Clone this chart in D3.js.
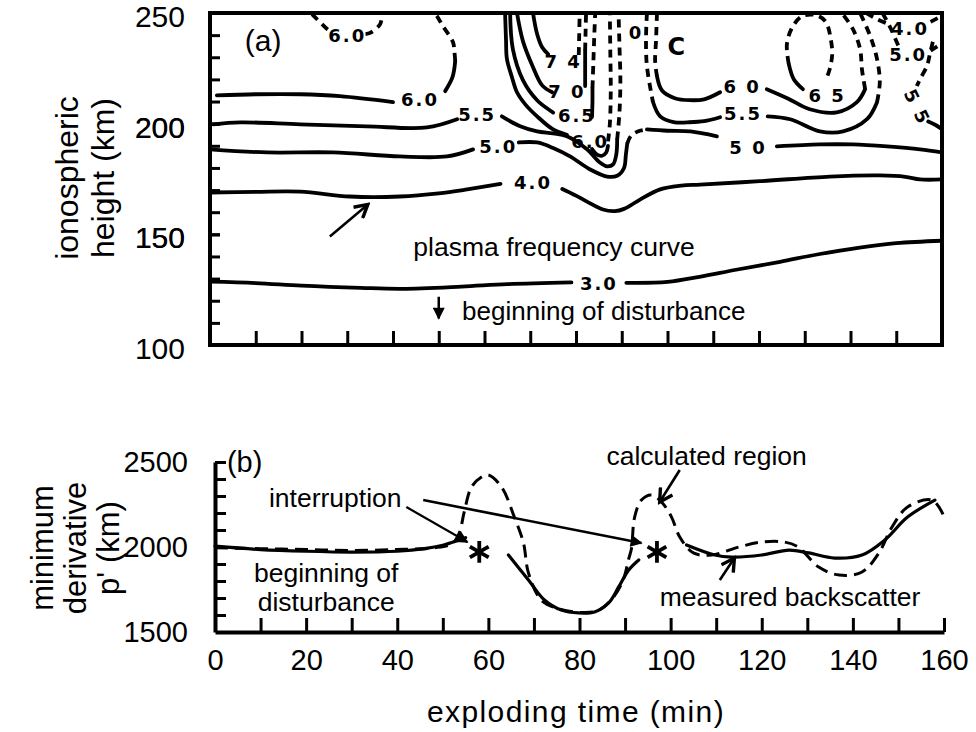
<!DOCTYPE html>
<html>
<head>
<meta charset="utf-8">
<script src="https://cdn.jsdelivr.net/npm/d3@7"></script>
<style>
  body { margin: 0; background: #fff; }
  text { font-family: "Liberation Sans", Arial, sans-serif; fill: #000; }
  .cl { font-family: "DejaVu Sans", sans-serif; font-weight: bold; font-size: 18px; letter-spacing: 2px; }
</style>
</head>
<body>
<div id="chart"></div>
<script>
// ---- panel (a): contours of plasma frequency, [time (min), height (km)] ----
var timeTicksA = d3.range(10, 160, 10);
var heightTicksA = d3.range(110, 250, 10);
var heightLabelsA = [100, 150, 200, 250];

var con30a = [[0,128.6],[10,128],[20,126.8],[33,125.8],[42,125.4],[55,126.4],[65,127.5],[79,128.3]];
var con30b = [[91,128.1],[100,128.5],[107,130.8],[115,134],[124.6,137.6],[133,141],[142,144],[150,146],[160,147.1]];

var con40a = [[0,168.9],[10,169.2],[19.7,169.3],[30.6,167.1],[41.5,167.1],[50,168.5],[56.2,170.3],[63.5,172.8]];
var con40b = [[77,170.5],[80,167.5],[82.4,164.8],[85.9,161.2],[88.5,160.5],[90.5,161.5],[94,165.7],[98.4,170.3],[103,172],[107.1,172.5],[120.2,174],[135.5,176.1],[146.4,176.6],[152,176],[155.2,174.8],[160,174.8]];
var con40c = [[143.4,250],[145.5,247.5],[148.2,245]];
var con40d = [[157.5,246],[159.8,248.5]];

var con50a = [[0,188.4],[12.5,187],[26.9,187],[41.5,185.2],[51.8,185.2],[57.5,188.4]];
var con50b = [[67.5,191.5],[71.5,191.5],[75,189],[78.7,185.2],[83.1,179.3],[86.8,176.1],[89,176.5],[90.5,180],[90.9,186],[91.2,191]];
var con50c = [[91.2,191],[92,194.5],[93.5,196.5],[95.5,197.4]];
var con50d = [[95.5,197.4],[100,196.8],[105,196.5],[110.8,194.3]];
var con50e = [[123.9,189.7],[133.3,190.6],[140.5,190.6],[148,189.7],[155.2,188.4],[160,187]];
var con50f = [[147,250],[148.8,243],[150.3,236],[151,233]];
var con50g = [[157.5,233],[159.8,236]];

var con55a = [[0.7,199.7],[6.6,200.6],[19.7,199.7],[34.3,198.8],[47.4,198.3],[54,202]];
var con55b = [[63.8,203.3],[67.8,198.8],[71.5,196.5],[75,195.6],[78,194.3],[82.4,188.4],[85.2,182.5],[86.8,180.7],[88.1,181.6],[88.8,186],[89,192.9]];
var con55c = [[89,192.9],[89.5,205],[89.7,220],[89.5,235],[89.3,250]];
var con55d = [[95.5,250],[95.3,238],[95.5,226],[96.8,210]];
var con55e = [[96.8,210],[98.4,203.3],[101.6,200.6],[104.3,200.6],[108,201.1],[111.5,202.9]];
var con55f = [[121.9,203.3],[126.8,202],[133.3,196.5],[138.4,196.5],[143.6,202],[145.8,209.7]];
var con55g = [[145.8,209.7],[146.4,218.7],[145.8,229.2],[144.3,239.6],[142.1,250]];
var con55h = [[158,237],[157.3,231],[156.7,226],[155.2,220.1],[154.5,217]];
var con55i = [[157,201],[158.5,199.5],[160,197.5]];

var con60a = [[1.5,212.8],[10,213.3],[19.7,213.3],[28.4,212.4],[40,209.7]];
var con60b = [[51.4,214.7],[53,221],[53.6,228.3]];
var con60c = [[53.6,228.3],[53.4,233],[53.1,236.9],[50.9,244.1],[49.6,248.6],[49,250]];
var con60top1 = [[22.3,249.5],[25.6,242.8],[26.5,241.5]];
var con60top2 = [[34,240.5],[35,241],[37.2,245],[37.6,249.5]];
var con60d = [[64.5,250],[64.7,238],[64.9,229.2],[66,221],[67.1,214.2],[69,208.5],[71.5,203.3],[75,197.4],[78,195]];
var con60e = [[83.5,188.5],[84.6,186],[85.7,185.5],[86.6,187],[87,190]];
var con60f = [[87,192],[87.4,200],[87.6,215],[87.5,232],[87.4,250]];
var con60g = [[97.7,250],[97.5,238],[97.3,228],[97.7,221.5]];
var con60h = [[97.7,221.5],[98.8,215],[101.6,211.5],[104.9,210.6],[108,211],[111.5,214.2]];
var con60i = [[121.7,215.6],[126.3,211.4],[131.1,206.5],[137,205.1],[141.4,209.7],[143.2,215.6]];
var con60j = [[143.2,215.6],[142.5,224.6],[142.1,233.7],[140.5,242.8],[138.1,250]];

var con65a = [[65.6,250],[66.2,233.7],[68.4,219.7],[71.5,210.6],[75,205]];
var con65b = [[83.5,203],[83.6,210],[83.6,216]];
var con65c = [[83.6,216],[83.8,228],[84,240],[84.2,250]];
var con65d = [[129.6,215.6],[127.6,220.1],[126.5,227]];
var con65e = [[126.5,227],[126.1,236],[127.4,244],[129.5,248.6],[132.5,249],[134.6,246],[135.7,238],[136,231.4],[135.5,225],[134.6,219.5]];

var con70a = [[67.1,250],[68.4,237.3],[70.4,226.5],[72.6,217.3],[74.8,214.2]];
var con70b = [[82,217],[82,225],[82,233]];
var con70c = [[82,233],[82.1,242],[82.2,250]];

var con74a = [[70.6,250],[71.5,240.5],[72.6,234.5],[73.9,231.4]];
var con74b = [[80.6,231],[80.7,240],[80.8,250]];

var contourLabels = [
  {t: 85, h: 128, text: "3.0"},
  {t: 70.6, h: 173.5, text: "4.0"},
  {t: 63, h: 189.7, text: "5.0"},
  {t: 117.6, h: 189.4, text: "5 0"},
  {t: 58.4, h: 204.2, text: "5.5"},
  {t: 116.5, h: 204.5, text: "5.5"},
  {t: 45.9, h: 211, text: "6.0"},
  {t: 30, h: 240, text: "6.0"},
  {t: 83.1, h: 192, text: "6.0"},
  {t: 116.3, h: 216.9, text: "6 0"},
  {t: 80.2, h: 203.8, text: "6.5"},
  {t: 134.9, h: 212.8, text: "6 5"},
  {t: 78, h: 214.6, text: "7 0"},
  {t: 77.2, h: 228.3, text: "7 4"},
  {t: 93.1, h: 241.4, text: "0"},
  {t: 153, h: 242.8, text: "4.0"},
  {t: 152.6, h: 231.4, text: "5.0"}
];

// ---- panel (b): minimum derivative p' (km) ----
var timeLabelsB = d3.range(0, 161, 20);
var timeTicksB = d3.range(10, 161, 10);
var pTicksB = d3.range(1600, 2501, 100);
var pLabelsB = [1500, 2000, 2500];

var measured1 = [[0,2005],[10,1985],[20,1975],[30,1970],[40,1975],[46,1990],[50,2010],[53,2035],[55,2055]];
var measured2 = [[64.4,1953],[68.8,1806],[72.3,1688],[76,1629],[79.8,1612],[83.3,1618],[86.4,1671],[88.6,1765],[90.8,1865],[93,1924]];
var measured3 = [[103.5,2012],[109.7,1953],[113.4,1941],[120,1953],[126,1982],[130.3,1965],[136,1935],[142,1953],[147,2041],[152,2176],[158,2276]];
var calculated = [[0,1995],[10,1990],[20,1985],[30,1980],[40,1985],[48,1995],[52,2020],[53.6,2082],[54.7,2206],[56.3,2353],[58.5,2412],[60,2424],[62.9,2353],[65.7,2176],[67.7,2024],[68.8,1847],[71.6,1688],[75,1640],[80,1615],[84,1625],[87,1690],[89.5,1800],[90.8,1930],[91.4,1990],[92.1,2176],[93.6,2276],[95.8,2306],[98,2265],[100.2,2176],[102,2059],[105,1965],[109,1953],[115,2000],[120,2029],[125,2029],[128,2000],[132.5,1882],[137,1835],[142,1853],[145.7,1965],[148.6,2118],[152,2235],[157.4,2276],[160,2180]];
var stars = [[58,1971],[97,1971]];

var svg = d3.select("#chart").append("svg")
  .attr("width", 976).attr("height", 732)
  .style("background", "white");

var defs = svg.append("defs");
defs.append("marker").attr("id", "tri")
  .attr("viewBox", "0 0 10 10").attr("refX", 9).attr("refY", 5)
  .attr("markerWidth", 15).attr("markerHeight", 12)
  .attr("markerUnits", "userSpaceOnUse").attr("orient", "auto")
  .append("path").attr("d", "M0,0 L10,5 L0,10 z").attr("fill", "#000");
defs.append("marker").attr("id", "vee")
  .attr("viewBox", "0 0 12 12").attr("refX", 10).attr("refY", 6)
  .attr("markerWidth", 17).attr("markerHeight", 17)
  .attr("markerUnits", "userSpaceOnUse").attr("orient", "auto")
  .append("path").attr("d", "M1,1 L10,6 L1,11").attr("fill", "none")
  .attr("stroke", "#000").attr("stroke-width", 2.4);

// ================= panel (a) =================
var xA = d3.scaleLinear().domain([0, 160]).range([210, 942]);
var yA = d3.scaleLinear().domain([100, 250]).range([345, 13]);

defs.append("clipPath").attr("id", "clipA").append("rect")
  .attr("x", xA(0)).attr("y", yA(250)).attr("width", xA(160) - xA(0)).attr("height", yA(100) - yA(250));

var gA = svg.append("g");
var plotA = gA.append("g").attr("clip-path", "url(#clipA)");

var lineA = d3.line()
  .x(function (d) { return xA(d[0]) })
  .y(function (d) { return yA(d[1]) })
  .curve(d3.curveCatmullRom.alpha(0.5));

function contour(pts, dashed) {
  plotA.append("path")
    .datum(pts)
    .attr("d", lineA)
    .attr("fill", "none")
    .attr("stroke", "#000")
    .attr("stroke-width", 3.8)
    .attr("stroke-linecap", dashed ? "butt" : "round")
    .attr("stroke-dasharray", dashed ? "8,6" : null);
}

// solid pieces
[con30a, con30b, con40a, con40b, con50a, con50b, con50d, con50e,
 con55a, con55b, con55e, con55f, con55i, con60a, con60b, con60d, con60e,
 con60h, con60i, con65a, con65b, con65d, con70a, con70b, con74a]
  .forEach(function (c) { contour(c, false) });
// dashed pieces
[con40c, con40d, con50c, con50f, con50g, con55c, con55d, con55g, con55h,
 con60c, con60top1, con60top2, con60f, con60g, con60j, con65c, con65e, con70c, con74b]
  .forEach(function (c) { contour(c, true) });

plotA.selectAll("text.cl")
  .data(contourLabels)
  .enter().append("text")
  .attr("class", "cl")
  .attr("x", d => xA(d.t))
  .attr("y", d => yA(d.h))
  .attr("dy", "0.36em")
  .attr("text-anchor", "middle")
  .text(d => d.text);

// slanted "5 5" label at the right edge and the bold C mark
plotA.append("text").attr("class", "cl")
  .attr("transform", "translate(" + xA(154.6) + "," + yA(207.6) + ") rotate(64)")
  .attr("text-anchor", "middle").attr("dy", "0.36em")
  .text("5 5");
plotA.append("text")
  .attr("x", xA(101.9)).attr("y", yA(235)).attr("dy", "0.36em")
  .attr("text-anchor", "middle")
  .style("font-family", "DejaVu Sans").style("font-weight", "bold").style("font-size", "24px")
  .text("C");

// frame
gA.append("rect")
  .attr("x", xA(0)).attr("y", yA(250))
  .attr("width", xA(160) - xA(0)).attr("height", yA(100) - yA(250))
  .attr("fill", "none").attr("stroke", "#000").attr("stroke-width", 4);

// ticks
var axisA_left = gA.append("g")
  .attr("transform", "translate(" + xA(0) + ",0)")
  .call(d3.axisLeft(yA).tickValues(heightTicksA.concat(heightLabelsA))
    .tickSizeInner(-10).tickSizeOuter(0).tickPadding(25)
    .tickFormat(function (d) { return heightLabelsA.indexOf(d) >= 0 ? d : "" }));
axisA_left.select(".domain").remove();
axisA_left.selectAll("line").attr("stroke-width", 3).filter(d => d == 100 || d == 250).remove();
axisA_left.selectAll("text").style("font-size", "30px").attr("dy", "0.45em");

var axisA_bottom = gA.append("g")
  .attr("transform", "translate(0," + yA(100) + ")")
  .call(d3.axisBottom(xA).tickValues(timeTicksA).tickSizeInner(-14).tickSizeOuter(0).tickFormat(""));
axisA_bottom.select(".domain").remove();
axisA_bottom.selectAll("line").attr("stroke-width", 3);

// axis title (a)
var titleA = gA.append("text")
  .attr("transform", "translate(67,178) rotate(-90)")
  .attr("text-anchor", "middle")
  .style("font-size", "32px");
titleA.append("tspan").attr("x", 0).attr("dy", "0.35em").text("ionospheric");
titleA.append("tspan").attr("x", 0).attr("dy", "1.12em").text("height (km)");

// annotations (a)
gA.append("text").attr("x", xA(11.6)).attr("y", yA(237.5)).attr("dy", "0.36em")
  .attr("text-anchor", "middle").style("font-size", "30px").text("(a)");

gA.append("line")
  .attr("x1", xA(26.2)).attr("y1", yA(149))
  .attr("x2", xA(34.5)).attr("y2", yA(163.5))
  .attr("stroke", "#000").attr("stroke-width", 2.5)
  .attr("marker-end", "url(#vee)");

gA.append("text").attr("x", xA(75.2)).attr("y", yA(144.4)).attr("dy", "0.36em")
  .attr("text-anchor", "middle").style("font-size", "26.5px").text("plasma frequency curve");

gA.append("line")
  .attr("x1", xA(50)).attr("y1", yA(121.8))
  .attr("x2", xA(50)).attr("y2", yA(112))
  .attr("stroke", "#000").attr("stroke-width", 2.5)
  .attr("marker-end", "url(#tri)");
gA.append("text").attr("x", xA(55.1)).attr("y", yA(115.5)).attr("dy", "0.36em")
  .style("font-size", "26px").text("beginning of disturbance");

// ================= panel (b) =================
var xB = d3.scaleLinear().domain([0, 160]).range([215, 944]);
var yB = d3.scaleLinear().domain([1500, 2500]).range([632, 462]);

var gB = svg.append("g");

var lineB = d3.line()
  .x(function (d) { return xB(d[0]) })
  .y(function (d) { return yB(d[1]) })
  .curve(d3.curveCatmullRom.alpha(0.5));

[measured1, measured2, measured3].forEach(function (m) {
  gB.append("path")
    .datum(m)
    .attr("d", lineB)
    .attr("fill", "none")
    .attr("stroke", "#000")
    .attr("stroke-width", 3.2)
    .attr("stroke-linecap", "round");
});

gB.append("path")
  .datum(calculated)
  .attr("d", lineB)
  .attr("fill", "none")
  .attr("stroke", "#000")
  .attr("stroke-width", 3)
  .attr("stroke-dasharray", "13,7");

gB.selectAll("path.star")
  .data(stars)
  .enter().append("path")
  .attr("class", "star")
  .attr("transform", d => "translate(" + xB(d[0]) + "," + yB(d[1]) + ")")
  .attr("d", d3.symbol(d3.symbolAsterisk, 330))
  .attr("fill", "none").attr("stroke", "#000").attr("stroke-width", 3.8);

// axes (b)
var axisB_left = gB.append("g")
  .attr("transform", "translate(" + xB(0) + ",0)")
  .call(d3.axisLeft(yB).tickValues(pTicksB.concat([1500]))
    .tickSizeInner(-11).tickSizeOuter(0).tickPadding(27)
    .tickFormat(function (d) { return pLabelsB.indexOf(d) >= 0 ? d : "" }));
axisB_left.select(".domain").attr("stroke-width", 4);
axisB_left.selectAll("line").attr("stroke-width", 3).filter(d => d == 1500).remove();
axisB_left.selectAll("text").style("font-size", "29px");

var axisB_bottom = gB.append("g")
  .attr("transform", "translate(0," + yB(1500) + ")")
  .call(d3.axisBottom(xB).tickValues(timeTicksB.concat([0]))
    .tickSizeInner(-14).tickSizeOuter(0).tickPadding(17)
    .tickFormat(function (d) { return timeLabelsB.indexOf(d) >= 0 ? d : "" }));
axisB_bottom.select(".domain").attr("stroke-width", 4);
axisB_bottom.selectAll("line").attr("stroke-width", 3).filter(d => d == 0).remove();
axisB_bottom.selectAll("text").style("font-size", "29px");

// titles (b)
var titleB = gB.append("text")
  .attr("transform", "translate(42,548) rotate(-90)")
  .attr("text-anchor", "middle")
  .style("font-size", "31px");
titleB.append("tspan").attr("x", 0).attr("dy", "0.35em").text("minimum");
titleB.append("tspan").attr("x", 0).attr("dy", "1.07em").text("derivative");
titleB.append("tspan").attr("x", 0).attr("dy", "1.07em").text("p' (km)");

gB.append("text").attr("x", 576).attr("y", 722)
  .attr("text-anchor", "middle").style("font-size", "30px").style("letter-spacing", "1.4px")
  .text("exploding time (min)");

// annotations (b)
gB.append("text").attr("x", xB(6.5)).attr("y", yB(2500)).attr("dy", "0.36em")
  .attr("text-anchor", "middle").style("font-size", "29px").text("(b)");

gB.append("text").attr("x", xB(26.4)).attr("y", yB(2294)).attr("dy", "0.36em")
  .attr("text-anchor", "middle").style("font-size", "26.5px").text("interruption");

var beg = gB.append("text").attr("text-anchor", "middle").style("font-size", "26.5px");
beg.append("tspan").attr("x", xB(24.4)).attr("y", yB(1853)).attr("dy", "0.36em").text("beginning of");
beg.append("tspan").attr("x", xB(24.4)).attr("y", yB(1682)).attr("dy", "0.36em").text("disturbance");

gB.append("text").attr("x", xB(107.9)).attr("y", yB(2540)).attr("dy", "0.36em")
  .attr("text-anchor", "middle").style("font-size", "26.5px").text("calculated region");

gB.append("text").attr("x", xB(126.2)).attr("y", yB(1712)).attr("dy", "0.36em")
  .attr("text-anchor", "middle").style("font-size", "26.5px").text("measured backscatter");

gB.append("line")
  .attr("x1", xB(42)).attr("y1", yB(2235)).attr("x2", xB(55.4)).attr("y2", yB(2029))
  .attr("stroke", "#000").attr("stroke-width", 2.2).attr("marker-end", "url(#tri)");
gB.append("line")
  .attr("x1", xB(45.7)).attr("y1", yB(2276)).attr("x2", xB(93.6)).attr("y2", yB(2024))
  .attr("stroke", "#000").attr("stroke-width", 2.6).attr("marker-end", "url(#tri)");
gB.append("line")
  .attr("x1", xB(102)).attr("y1", yB(2453)).attr("x2", xB(97.6)).attr("y2", yB(2265))
  .attr("stroke", "#000").attr("stroke-width", 2.6).attr("marker-end", "url(#vee)");
gB.append("line")
  .attr("x1", xB(110.8)).attr("y1", yB(1806)).attr("x2", xB(114)).attr("y2", yB(1935))
  .attr("stroke", "#000").attr("stroke-width", 2.6).attr("marker-end", "url(#vee)");
</script>
</body>
</html>
